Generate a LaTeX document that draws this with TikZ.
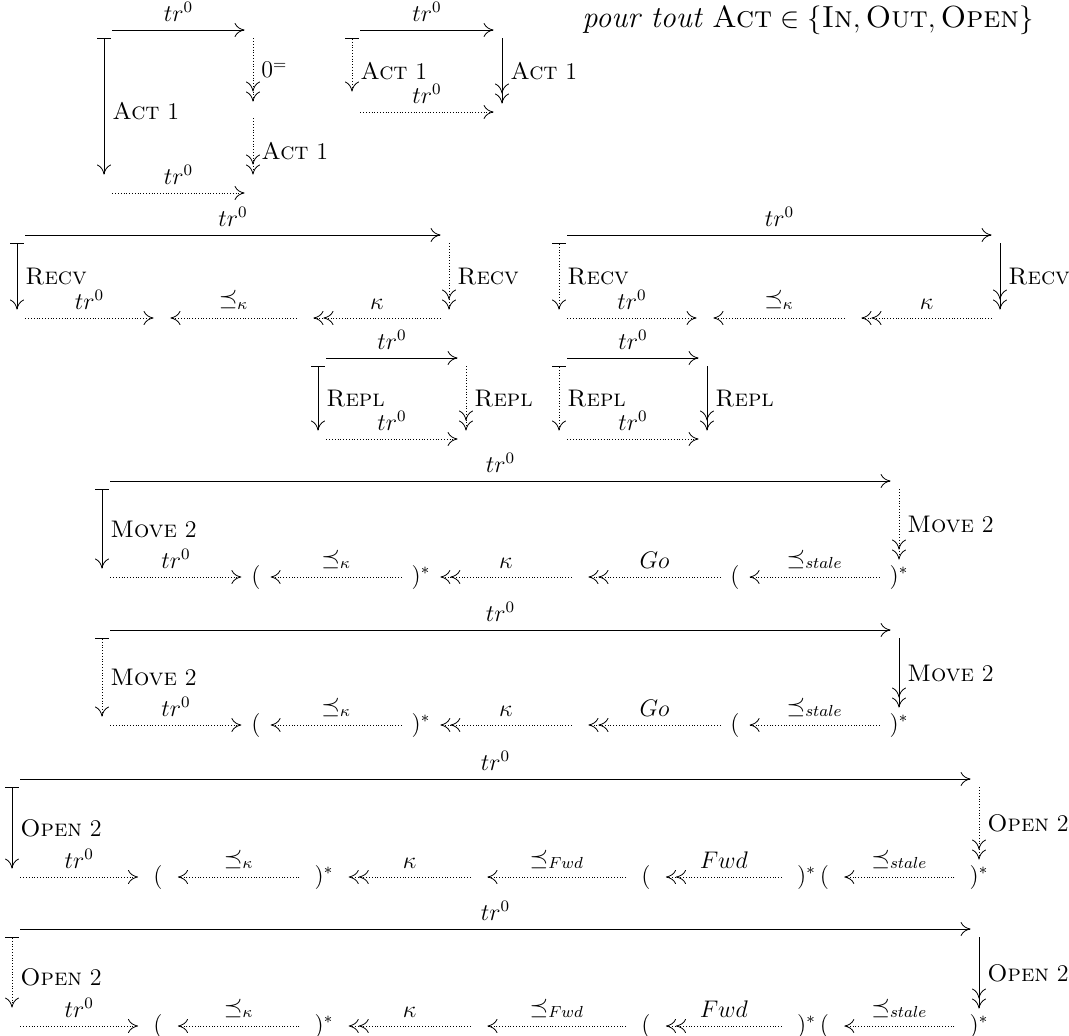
\documentclass[12pt,tikz,border=0pt]{standalone}
\usetikzlibrary{arrows.meta}
\tikzset{
  >={Computer Modern Rightarrow[length=5pt,width=7pt]},
  corner/.style={inner sep=4pt},
  obj/.style={inner xsep=4.8pt,inner ysep=2.5pt},
  wideobj/.style={inner xsep=7.5pt,inner ysep=2.5pt},
  solarr/.style={->},
  soldbl/.style={->>},
  dotarr/.style={densely dotted,->},
  dotdbl/.style={densely dotted,->>},
  tailsol/.style={{Bar[width=7pt]}->},
  taildot/.style={densely dotted,{Bar[width=7pt]}->},
}

\begin{document}
\begin{tikzpicture}[x=0.5pt,y=-0.5pt]
\useasboundingbox (0,0) rectangle (1069,1036);

\node[corner] (a1) at (104,30) {};
\node[corner] (b1) at (253,30) {};
\node[corner] (c1) at (253,110) {};
\node[corner] (d1) at (253,193) {};
\node[corner] (e1) at (104,193) {};
\draw[solarr] (a1) -- node[above]{$tr^0$} (b1);
\draw[tailsol,shorten >=5pt] (a1) -- node[right]{\textsc{Act} 1} (e1);
\draw[dotdbl] (b1) -- node[right]{$0^=$} (c1);
\draw[dotdbl,shorten >=5pt] (c1) -- node[right]{\textsc{Act} 1} (d1);
\draw[dotarr] (e1) -- node[above]{$tr^0$} (d1);

\node[corner] (a2) at (352,30) {};
\node[corner] (b2) at (502,30) {};
\node[corner] (d2) at (502,112) {};
\node[corner] (e2) at (352,112) {};
\draw[solarr] (a2) -- node[above]{$tr^0$} (b2);
\draw[taildot,shorten >=6pt] (a2) -- node[right]{\textsc{Act} 1} (e2);
\draw[soldbl] (b2) -- node[right]{\textsc{Act} 1} (d2);
\draw[dotarr] (e2) -- node[above]{$tr^0$} (d2);

\node[anchor=west,inner sep=0pt] (forall) at (582,20) {\fontsize{15.25}{18}\selectfont\textit{pour tout} $\textsc{Act}\in\{\textsc{In},\textsc{Out},\textsc{Open}\}$};

\node[corner] (r1) at (17,235) {};
\node[corner] (r2) at (449,235) {};
\node[corner] (r3) at (449,318) {};
\node[corner] (r4) at (17,318) {};
\node[corner] (r5) at (162,318) {};
\node[corner] (r6) at (305,318) {};
\draw[solarr] (r1) -- node[above]{$tr^0$} (r2);
\draw[tailsol] (r1) -- node[right]{\textsc{Recv}} (r4);
\draw[dotdbl] (r2) -- node[right]{\textsc{Recv}} (r3);
\draw[dotarr] (r4) -- node[above]{$tr^0$} (r5);
\draw[dotarr] (r6) -- node[above]{$\preceq_\kappa$} (r5);
\draw[dotdbl] (r3) -- node[above]{$\kappa$} (r6);

\node[corner] (s1) at (559,235) {};
\node[corner] (s2) at (1000,235) {};
\node[corner] (s3) at (1000,318) {};
\node[corner] (s4) at (559,318) {};
\node[corner] (s5) at (705,318) {};
\node[corner] (s6) at (853,318) {};
\draw[solarr] (s1) -- node[above]{$tr^0$} (s2);
\draw[taildot] (s1) -- node[right]{\textsc{Recv}} (s4);
\draw[soldbl] (s2) -- node[right]{\textsc{Recv}} (s3);
\draw[dotarr] (s4) -- node[above]{$tr^0$} (s5);
\draw[dotarr] (s6) -- node[above]{$\preceq_\kappa$} (s5);
\draw[dotdbl] (s3) -- node[above]{$\kappa$} (s6);

\node[corner] (p1) at (318,358) {};
\node[corner] (p2) at (466,358) {};
\node[corner] (p3) at (466,439) {};
\node[corner] (p4) at (318,439) {};
\draw[solarr] (p1) -- node[above]{$tr^0$} (p2);
\draw[tailsol] (p1) -- node[right]{\textsc{Repl}} (p4);
\draw[dotdbl] (p2) -- node[right]{\textsc{Repl}} (p3);
\draw[dotarr] (p4) -- node[above]{$tr^0$} (p3);

\node[corner] (q1) at (559,358) {};
\node[corner] (q2) at (707,358) {};
\node[corner] (q3) at (707,439) {};
\node[corner] (q4) at (559,439) {};
\draw[solarr] (q1) -- node[above]{$tr^0$} (q2);
\draw[taildot] (q1) -- node[right]{\textsc{Repl}} (q4);
\draw[soldbl] (q2) -- node[right]{\textsc{Repl}} (q3);
\draw[dotarr] (q4) -- node[above]{$tr^0$} (q3);

\node[corner] (m1) at (102,481) {};
\node[corner] (m2) at (899,481) {};
\node[corner] (m3) at (102,577) {};
\node[obj] (m4) at (256,577) {$($};
\node[obj] (m5) at (421,577) {$)^*$};
\node[corner] (m6) at (580,577) {};
\node[obj] (m7) at (735,577) {$($};
\node[obj] (m8) at (899,577) {$)^*$};
\draw[solarr] (m1) -- node[above]{$tr^0$} (m2);
\draw[tailsol] (m1) -- node[right]{\textsc{Move} 2} (m3);
\draw[dotdbl] (m2) -- node[right]{\textsc{Move} 2} (m8);
\draw[dotarr] (m3) -- node[above]{$tr^0$} (m4);
\draw[dotarr] (m5) -- node[above]{$\preceq_\kappa$} (m4);
\draw[dotdbl] (m6) -- node[above]{$\kappa$} (m5);
\draw[dotdbl] (m7) -- node[above]{$Go$} (m6);
\draw[dotarr] (m8) -- node[above]{$\preceq_{stale}$} (m7);

\node[corner] (n1) at (102,630) {};
\node[corner] (n2) at (899,630) {};
\node[corner] (n3) at (102,725) {};
\node[obj] (n4) at (256,725) {$($};
\node[obj] (n5) at (421,725) {$)^*$};
\node[corner] (n6) at (580,725) {};
\node[obj] (n7) at (735,725) {$($};
\node[obj] (n8) at (899,725) {$)^*$};
\draw[solarr] (n1) -- node[above]{$tr^0$} (n2);
\draw[taildot] (n1) -- node[right]{\textsc{Move} 2} (n3);
\draw[soldbl] (n2) -- node[right]{\textsc{Move} 2} (n8);
\draw[dotarr] (n3) -- node[above]{$tr^0$} (n4);
\draw[dotarr] (n5) -- node[above]{$\preceq_\kappa$} (n4);
\draw[dotdbl] (n6) -- node[above]{$\kappa$} (n5);
\draw[dotdbl] (n7) -- node[above]{$Go$} (n6);
\draw[dotarr] (n8) -- node[above]{$\preceq_{stale}$} (n7);

\node[corner] (o1) at (12,779) {};
\node[corner] (o2) at (979,779) {};
\node[corner] (o3) at (12,877) {};
\node[wideobj] (o4) at (158,877) {$($};
\node[wideobj] (o5) at (324,877) {$)^*$};
\node[corner] (o6) at (479,877) {};
\node[wideobj] (o7) at (646,877) {$($};
\node[wideobj] (o8) at (813,877) {$)^*\,($};
\node[wideobj] (o9) at (979,877) {$)^*$};
\draw[solarr] (o1) -- node[above]{$tr^0$} (o2);
\draw[tailsol] (o1) -- node[right]{\textsc{Open} 2} (o3);
\draw[dotdbl] (o2) -- node[right]{\textsc{Open} 2} (o9);
\draw[dotarr] (o3) -- node[above]{$tr^0$} (o4);
\draw[dotarr] (o5) -- node[above]{$\preceq_\kappa$} (o4);
\draw[dotdbl] (o6) -- node[above]{$\kappa$} (o5);
\draw[dotarr] (o7) -- node[above]{$\preceq_{Fwd}$} (o6);
\draw[dotdbl] (o8) -- node[above]{$Fwd$} (o7);
\draw[dotarr] (o9) -- node[above]{$\preceq_{stale}$} (o8);

\node[corner] (u1) at (12,929) {};
\node[corner] (u2) at (979,929) {};
\node[corner] (u3) at (12,1026) {};
\node[wideobj] (u4) at (158,1026) {$($};
\node[wideobj] (u5) at (324,1026) {$)^*$};
\node[corner] (u6) at (479,1026) {};
\node[wideobj] (u7) at (646,1026) {$($};
\node[wideobj] (u8) at (813,1026) {$)^*\,($};
\node[wideobj] (u9) at (979,1026) {$)^*$};
\draw[solarr] (u1) -- node[above]{$tr^0$} (u2);
\draw[taildot,shorten >=5pt] (u1) -- node[right]{\textsc{Open} 2} (u3);
\draw[soldbl] (u2) -- node[right]{\textsc{Open} 2} (u9);
\draw[dotarr] (u3) -- node[above]{$tr^0$} (u4);
\draw[dotarr] (u5) -- node[above]{$\preceq_\kappa$} (u4);
\draw[dotdbl] (u6) -- node[above]{$\kappa$} (u5);
\draw[dotarr] (u7) -- node[above]{$\preceq_{Fwd}$} (u6);
\draw[dotdbl] (u8) -- node[above]{$Fwd$} (u7);
\draw[dotarr] (u9) -- node[above]{$\preceq_{stale}$} (u8);
\end{tikzpicture}
\end{document}
